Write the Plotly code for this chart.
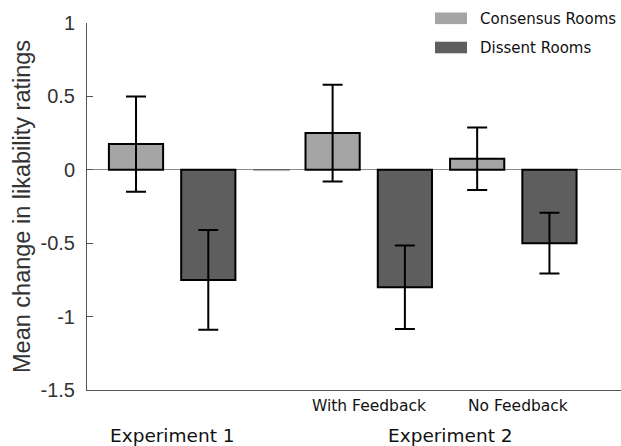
import plotly.graph_objects as go

# Data
groups = ["Experiment 1", "With Feedback", "No Feedback"]
consensus_means = [0.175, 0.25, 0.075]
consensus_err = [0.325, 0.33, 0.213]
dissent_means = [-0.75, -0.80, -0.50]
dissent_err = [0.34, 0.285, 0.207]
series_names = ["Consensus Rooms", "Dissent Rooms"]
y_ticks = [1, 0.5, 0, -0.5, -1, -1.5]
y_tick_labels = ["1", "0.5", "0", "-0.5", "-1", "-1.5"]

# Layout positions (group starts)
group_pos = [0.0, 2.72, 4.72]
bar_w = 0.75
c_light = "#a5a5a5"
c_dark = "#5e5e5e"

xc = group_pos
xd = [p + 1.0 for p in group_pos]

fig = go.Figure()
fig.add_trace(go.Bar(
    x=xc, y=consensus_means, width=bar_w, name=series_names[0],
    marker=dict(color=c_light, line=dict(color="black", width=2)),
    error_y=dict(type="data", array=consensus_err, color="black", thickness=2, width=10),
    showlegend=False, hoverinfo="skip",
))
fig.add_trace(go.Bar(
    x=xd, y=dissent_means, width=bar_w, name=series_names[1],
    marker=dict(color=c_dark, line=dict(color="black", width=2)),
    error_y=dict(type="data", array=dissent_err, color="black", thickness=2, width=10),
    showlegend=False, hoverinfo="skip",
))

W, H = 621, 446
L, R, T, B = 87, 0, 23, 56
pw = W - L - R
ph = H - T - B

def px_x(px):
    return (px - L) / pw

def px_y(py):
    return (H - B - py) / ph

annotations = [
    dict(text="Mean change in likability ratings", x=px_x(22), y=px_y(207), xref="paper", yref="paper",
         textangle=-90, showarrow=False, xanchor="center", yanchor="middle",
         font=dict(family="Liberation Sans, Arial", size=23.5, color="#333333")),
    dict(text=groups[1], x=(xc[1] + xd[1]) / 2, y=px_y(406), xref="x", yref="paper",
         showarrow=False, xanchor="center", yanchor="middle",
         font=dict(family="DejaVu Sans", size=15.5, color="#111111")),
    dict(text=groups[2], x=(xc[2] + xd[2]) / 2 + 0.07, y=px_y(406), xref="x", yref="paper",
         showarrow=False, xanchor="center", yanchor="middle",
         font=dict(family="DejaVu Sans", size=15.5, color="#111111")),
    dict(text=groups[0], x=(xc[0] + xd[0]) / 2, y=px_y(435), xref="x", yref="paper",
         showarrow=False, xanchor="center", yanchor="middle",
         font=dict(family="DejaVu Sans", size=18.5, color="#111111")),
    dict(text="Experiment 2", x=(xc[1] + xd[2]) / 2 + 0.13, y=px_y(435), xref="x", yref="paper",
         showarrow=False, xanchor="center", yanchor="middle",
         font=dict(family="DejaVu Sans", size=18.5, color="#111111")),
]

# Legend (custom)
shapes = []
for i, (nm, col) in enumerate(zip(series_names, [c_light, c_dark])):
    yc = 18.3 + i * 29.2
    shapes.append(dict(type="rect", xref="paper", yref="paper",
                       x0=px_x(435), x1=px_x(467), y0=px_y(yc + 5.8), y1=px_y(yc - 5.8),
                       fillcolor=col, line=dict(width=0)))
    annotations.append(dict(text=nm, x=px_x(478), y=px_y(yc + 0.8), xref="paper", yref="paper",
                            showarrow=False, xanchor="left", yanchor="middle",
                            font=dict(family="DejaVu Sans", size=15, color="#111111")))

# darker zero segment in the gap
shapes.append(dict(type="line", xref="x", yref="y", x0=xd[0] + 0.62, x1=xc[1] - 0.59, y0=0, y1=0,
                   line=dict(color="#666666", width=1.5)))

fig.update_layout(
    width=W, height=H,
    margin=dict(l=L, r=R, t=T, b=B),
    plot_bgcolor="white", paper_bgcolor="white",
    barmode="overlay",
    hovermode=False,
    xaxis=dict(range=[-0.678, 6.71], showticklabels=False, ticks="", showgrid=False,
               zeroline=False, showline=True, linecolor="#555555", linewidth=1),
    yaxis=dict(range=[-1.5, 1], tickvals=y_ticks, ticktext=y_tick_labels, ticks="inside",
               ticklen=6, tickcolor="#555555", showgrid=False, zeroline=True,
               zerolinecolor="#8a8a8a", zerolinewidth=1, showline=True, linecolor="#555555",
               linewidth=1, ticklabelstandoff=7,
               tickfont=dict(family="Liberation Sans, Arial", size=20, color="#333333")),
    annotations=annotations,
    shapes=shapes,
)

fig.write_html("out.html", config={"displayModeBar": False},
               post_script="document.body.style.margin='0';document.body.style.overflow='hidden';")
